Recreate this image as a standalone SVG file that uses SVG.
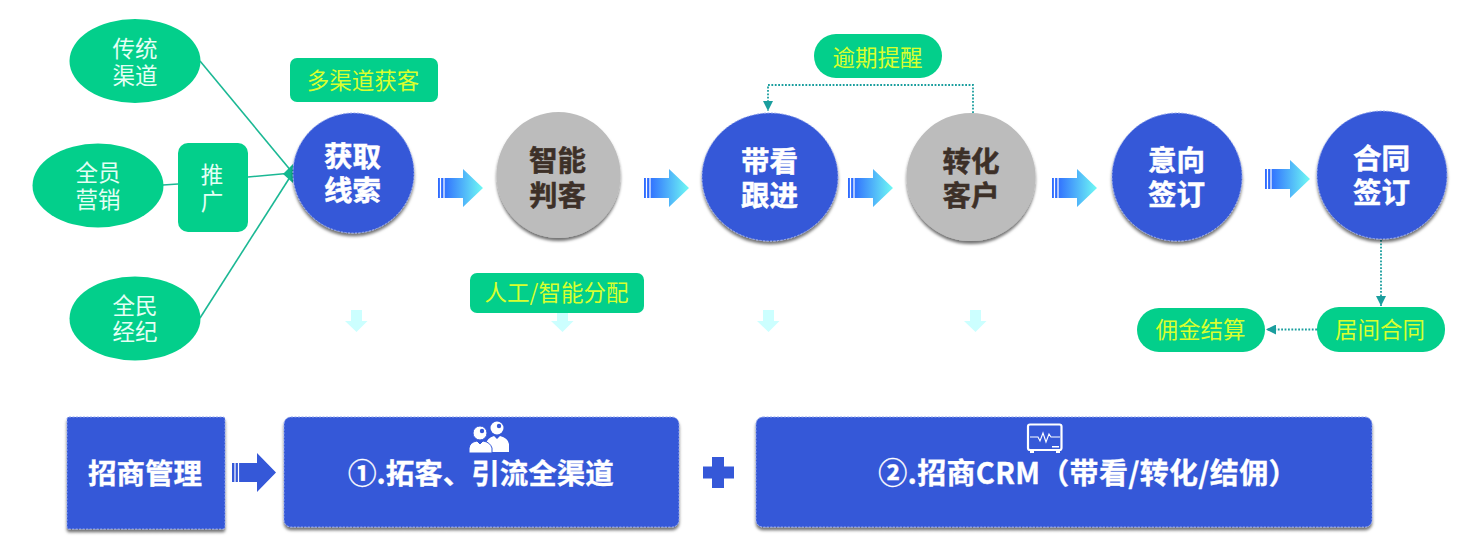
<svg xmlns="http://www.w3.org/2000/svg" width="1483" height="547" viewBox="0 0 1483 547">
<style>
text{font-family:"Noto Sans CJK SC","Microsoft YaHei",sans-serif;text-anchor:middle;dominant-baseline:central}
.g{fill:#03cf8b}
.lab{font-size:22.5px;fill:#d8ff2e}
.src{font-size:22.5px;fill:#e4fff4}
.b{fill:#3558d8;stroke:#92a5ec;stroke-width:1;stroke-dasharray:2 1.5;filter:url(#sh)}
.y{fill:#bcbcbc;filter:url(#sh)}
.t{font-size:28.5px;font-weight:700;fill:#fff;stroke:#fff;stroke-width:.5}
.d{font-size:28.5px;font-weight:700;fill:#3d3028;stroke:#3d3028;stroke-width:.5}
.bt{font-size:28.5px;font-weight:700;fill:#fff;stroke:#fff;stroke-width:.3}
.ln{fill:none;stroke:#1bb894;stroke-width:1.6}
.dot{fill:none;stroke:#1a9e9e;stroke-width:1.8;stroke-dasharray:1.8 1.6}
.fa{fill:url(#ag)}
.da{fill:#ccffff}
.stripe{stroke:#fff;stroke-width:1.2}
.ic{fill:#fff}
</style>
<defs>
<linearGradient id="ag" x1="0" x2="1" y1="0" y2="0"><stop offset="0.1" stop-color="#2f6cff"/><stop offset="1" stop-color="#6ffaf4"/></linearGradient>
<filter id="sh" x="-10%" y="-10%" width="120%" height="125%"><feDropShadow dx="0" dy="3" stdDeviation="1.8" flood-color="#000" flood-opacity="0.55"/></filter>
<marker id="ah" markerUnits="userSpaceOnUse" markerWidth="11" markerHeight="10" refX="10" refY="5" orient="auto"><path d="M0 0L10 5L0 10Z" fill="#1a9e9e"/></marker>
<g id="farrow"><path class="fa" d="M0 9H25V0L45 19L25 38V29H0Z"/><path class="stripe" d="M2.5 9V29M6 9V29"/></g>
<path id="darrow" class="da" d="M6 0H17V11H22.500L11.500 22L0 11H6Z"/>
</defs>
<rect width="1483" height="547" fill="#fff"/>

<g id="connectors">
<path class="ln" d="M200 61L292 172"/>
<path class="ln" d="M163 185L178 184"/>
<path class="ln" d="M248 177L292 173"/>
<path class="ln" d="M200 318L292 174"/>
<path d="M283 174L293 164V183Z" fill="#12b890"/>
<path class="dot" d="M973 113V85H768V111" marker-end="url(#ah)"/>
<path class="dot" d="M1381 240V306" marker-end="url(#ah)"/>
<path class="dot" d="M1317 329.500H1266" marker-end="url(#ah)"/>
</g>

<g id="flow-arrows">
<use href="#farrow" x="438" y="169"/>
<use href="#farrow" x="644" y="169"/>
<use href="#farrow" x="848" y="169"/>
<use href="#farrow" x="1052" y="169"/>
<use href="#farrow" x="1265" y="160"/>
</g>
<g id="down-arrows">
<use href="#darrow" x="345" y="310"/>
<use href="#darrow" x="551" y="310"/>
<use href="#darrow" x="757" y="310"/>
<use href="#darrow" x="964" y="310"/>
</g>

<g id="node-chuantong"><ellipse class="g" cx="135" cy="61" rx="65.500" ry="42"/><text class="src" x="135" y="46.500">传统<tspan x="135" dy="27">渠道</tspan></text></g>
<g id="node-quanyuan"><ellipse class="g" cx="98" cy="185.500" rx="65.500" ry="42"/><text class="src" x="98" y="170.500">全员<tspan x="98" dy="27">营销</tspan></text></g>
<g id="node-quanmin"><ellipse class="g" cx="135" cy="318.500" rx="65.500" ry="42"/><text class="src" x="135" y="303.500">全民<tspan x="135" dy="26.500">经纪</tspan></text></g>
<g id="node-tuiguang"><rect class="g" x="178" y="143" width="70" height="89" rx="10"/><text class="src" x="212" y="172.500">推<tspan x="212" dy="27">广</tspan></text></g>
<g id="label-duoqudao"><rect class="g" x="290" y="58" width="148" height="44" rx="7"/><text class="lab" x="363" y="78.500">多渠道获客</text></g>

<g id="node-huoqu"><ellipse class="b" cx="353.500" cy="173" rx="60.500" ry="60"/><text class="t" x="352.500" y="154">获取<tspan x="352.500" dy="34">线索</tspan></text></g>
<g id="node-panke"><ellipse class="y" cx="558.500" cy="175" rx="62" ry="63"/><text class="d" x="557.500" y="158">智能<tspan x="557.500" dy="35">判客</tspan></text></g>
<g id="node-daikan"><ellipse class="b" cx="770" cy="177" rx="68" ry="64"/><text class="t" x="769.500" y="159">带看<tspan x="769.500" dy="34">跟进</tspan></text></g>
<g id="node-zhuanhua"><ellipse class="y" cx="971" cy="177" rx="64.500" ry="64"/><text class="d" x="971" y="159">转化<tspan x="971" dy="34">客户</tspan></text></g>
<g id="node-yixiang"><ellipse class="b" cx="1177" cy="177" rx="65" ry="64"/><text class="t" x="1176.500" y="158">意向<tspan x="1176.500" dy="34">签订</tspan></text></g>
<g id="node-hetong"><ellipse class="b" cx="1382" cy="175" rx="65" ry="64"/><text class="t" x="1381.500" y="156">合同<tspan x="1381.500" dy="34">签订</tspan></text></g>

<g id="label-yuqi"><rect class="g" x="814" y="34" width="128" height="44" rx="22"/><text class="lab" x="877.500" y="55.500">逾期提醒</text></g>
<g id="label-fenpei"><rect class="g" x="470" y="273" width="174" height="40" rx="7"/><text class="lab" x="556.500" y="291">人工/智能分配</text></g>
<g id="label-yongjin"><rect class="g" x="1137" y="308" width="128" height="44" rx="22"/><text class="lab" x="1200.500" y="328">佣金结算</text></g>
<g id="label-jujian"><rect class="g" x="1317" y="307" width="128" height="45" rx="22"/><text class="lab" x="1380" y="328">居间合同</text></g>

<g id="node-zhaoshang"><rect class="b" x="67" y="417" width="158" height="112" rx="2"/><text class="bt" x="145" y="471">招商管理</text></g>
<path id="big-arrow" fill="#3558d8" d="M232 463H257V453L276 472.500L257 492V482H232Z"/>
<path class="stripe" d="M235 463V482M238.500 463V482"/>
<g id="node-tuoke"><rect class="b" x="284" y="417" width="395" height="110" rx="7"/><text class="bt" x="481" y="471">①.拓客、引流全渠道</text>
<g id="icon-people" class="ic"><circle cx="497" cy="428" r="6.500"/><path d="M486 452V444Q487 438 494 436L497 439L500 436Q508 438 509 444V452Z"/><circle cx="480" cy="433" r="7" stroke="#3558d8" stroke-width="1"/><path d="M469 453V448Q470 442 477 441L480 444L483 441Q490 442 492 448V453Z" stroke="#3558d8" stroke-width="1"/><circle cx="482" cy="431" r="2.200" fill="#3558d8"/><circle cx="499" cy="426" r="2.200" fill="#3558d8"/></g></g>
<path id="plus" fill="#3558d8" d="M712 457H724V466.500H734V478.500H724V488H712V478.500H703V466.500H712Z"/>
<g id="node-crm"><rect class="b" x="756" y="417" width="616" height="110" rx="7"/><text class="bt" x="1088" y="471" style="font-size:29px;letter-spacing:.3px">②.招商CRM（带看/转化/结佣）</text>
<g id="icon-monitor"><rect x="1028" y="424.500" width="33.500" height="25.500" rx="2" fill="none" stroke="#fff" stroke-width="2.200"/><path d="M1030 437H1038L1040 441L1043 433L1046 442L1049 434L1051 437H1060" fill="none" stroke="#fff" stroke-width="1.100"/><rect class="ic" x="1030" y="451" width="4" height="2"/><rect class="ic" x="1056" y="451" width="4" height="2"/><rect class="ic" x="1052" y="446" width="7" height="1.500"/></g></g>
</svg>
